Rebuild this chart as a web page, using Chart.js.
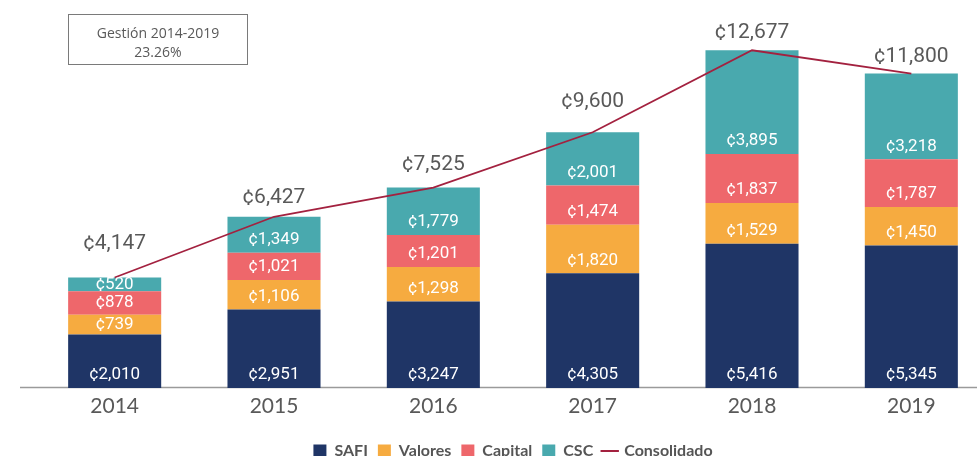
<!DOCTYPE html>
<html>
<head>
<meta charset="utf-8">
<script src="https://cdn.jsdelivr.net/npm/chart.js@4.4.1/dist/chart.umd.min.js"></script>
<style>
  html, body { margin: 0; padding: 0; background: #fff; overflow: hidden; }
  #wrap { position: absolute; left: 0; top: 0; width: 991px; height: 469px; }
  #note {
    position: absolute; left: 68px; top: 14px; width: 180px; height: 51px;
    box-sizing: border-box; border: 1px solid #7a7a7a;
    font-family: "Open Sans", sans-serif; font-size: 14px; color: #595959;
    text-align: center; line-height: 19px; padding-top: 8px;
  }
</style>
</head>
<body>
<div id="wrap"><canvas id="chart"></canvas></div>
<div id="note">Gestión 2014-2019<br>23.26%</div>
<script>
const years = ["2014", "2015", "2016", "2017", "2018", "2019"];
const safi = [2010, 2951, 3247, 4305, 5416, 5345];
const valores = [739, 1106, 1298, 1820, 1529, 1450];
const capital = [878, 1021, 1201, 1474, 1837, 1787];
const csc = [520, 1349, 1779, 2001, 3895, 3218];
const consolidado = [4147, 6427, 7525, 9600, 12677, 11800];

// how far above the line point each total sits (px)
const totalLift = [34, 19, 23, 30, 17, 17];

function fmt(v) {
    return "¢" + v.toLocaleString("en-US");
}

// grey axis line, runs past the first band like the original
const baseLine = {
    id: "baseLine",
    beforeDatasetsDraw(chart) {
        const { ctx, chartArea } = chart;
        ctx.save();
        ctx.strokeStyle = "#9a9a9a";
        ctx.lineWidth = 1.3;
        ctx.beginPath();
        ctx.moveTo(20, chartArea.bottom - 0.5);
        ctx.lineTo(chart.width, chartArea.bottom - 0.5);
        ctx.stroke();
        ctx.restore();
    }
};

const valueLabels = {
    id: "valueLabels",
    afterDatasetsDraw(chart) {
        const ctx = chart.ctx;
        ctx.save();
        ctx.textAlign = "center";
        ctx.textBaseline = "middle";
        chart.data.datasets.forEach((ds, di) => {
            const meta = chart.getDatasetMeta(di);
            if (ds.type === "line") {
                ctx.font = "21px Roboto";
                ctx.fillStyle = "#595959";
                meta.data.forEach((el, i) => {
                    ctx.fillText(fmt(ds.data[i]), el.x, el.y - totalLift[i]);
                });
            } else {
                ctx.font = "17px Roboto";
                ctx.fillStyle = "#ffffff";
                meta.data.forEach((el, i) => {
                    // sits near the base of the segment, centred when the segment is thin
                    const y = Math.max(el.base - 13, (el.y + el.base) / 2);
                    ctx.fillText(fmt(ds.data[i]), el.x, y);
                });
            }
        });
        ctx.restore();
    }
};

function barSet(label, data, color) {
    return {
        type: "bar",
        label: label,
        data: data,
        backgroundColor: color,
        stack: "parts",
        order: 1,
        barPercentage: 0.584,
        categoryPercentage: 1
    };
}

const ctx = document.getElementById("chart").getContext("2d");
new Chart(ctx, {
    data: {
        labels: years,
        datasets: [
            barSet("SAFI", safi, "#1f3566"),
            barSet("Valores", valores, "#f6ab40"),
            barSet("Capital", capital, "#ee676b"),
            barSet("CSC", csc, "#49a9ae"),
            {
                type: "line",
                label: "Consolidado",
                data: consolidado,
                borderColor: "#a3213f",
                backgroundColor: "#a3213f",
                borderWidth: 1.8,
                pointRadius: 0,
                tension: 0,
                stack: "total",
                order: 0
            }
        ]
    },
    options: {
        responsive: true,
        maintainAspectRatio: false,
        animation: false,
        layout: { padding: { left: 35, top: 15, right: 0, bottom: 0 } },
        plugins: {
            tooltip: { enabled: false },
            legend: {
                position: "bottom",
                labels: {
                    font: { family: "Lato", size: 16, weight: "bold" },
                    color: "#555555",
                    usePointStyle: true,
                    boxWidth: 13,
                    boxHeight: 13,
                    padding: 10,
                    generateLabels(chart) {
                        return chart.data.datasets.map((ds, i) => ({
                            text: ds.label,
                            datasetIndex: i,
                            fillStyle: ds.backgroundColor,
                            strokeStyle: ds.type === "line" ? ds.borderColor : ds.backgroundColor,
                            lineWidth: ds.type === "line" ? 2 : 0,
                            pointStyle: ds.type === "line" ? "line" : "rect",
                            fontColor: "#555555",
                            hidden: false
                        }));
                    }
                }
            }
        },
        scales: {
            x: {
                stacked: true,
                offset: true,
                grid: { display: false, drawTicks: false },
                border: { display: false },
                ticks: {
                    font: { family: "Lato", size: 21 },
                    color: "#595959",
                    padding: 6
                },
                afterFit(scale) { scale.height = 45; }
            },
            y: {
                display: false,
                stacked: true,
                min: 0,
                max: 14000
            }
        }
    },
    plugins: [baseLine, valueLabels]
});
</script>
</body>
</html>
